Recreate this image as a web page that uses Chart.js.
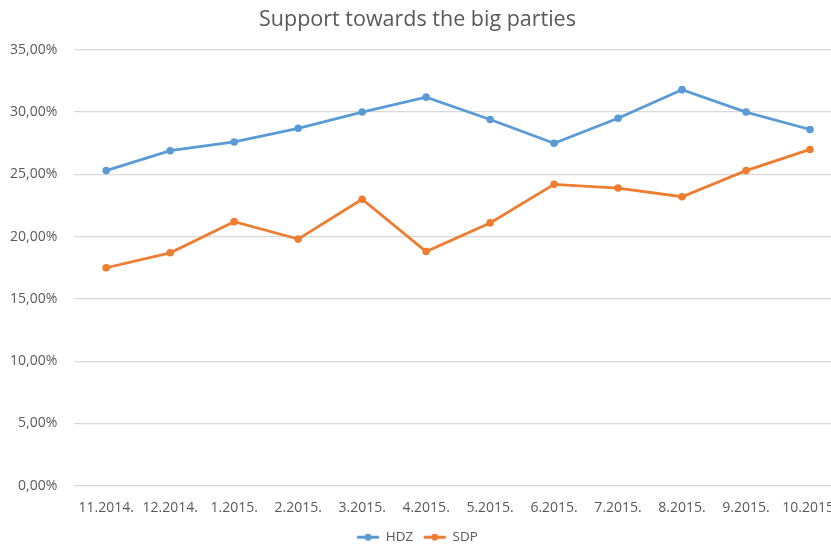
<!DOCTYPE html>
<html>
<head>
<meta charset="utf-8">
<script src="https://cdn.jsdelivr.net/npm/chart.js@4/dist/chart.umd.min.js"></script>
<style>
html,body{margin:0;padding:0;background:#fff;overflow:hidden;width:831px;height:546px;position:relative;}
#wrap{position:absolute;left:-15px;top:0;width:885px;height:546px;}
</style>
</head>
<body>
<div id="wrap"><canvas id="c" width="885" height="546" style="width:885px;height:546px"></canvas></div>
<script>
const categories = ["11.2014.","12.2014.","1.2015.","2.2015.","3.2015.","4.2015.","5.2015.","6.2015.","7.2015.","8.2015.","9.2015.","10.2015."];
const hdzValues = [25.3,26.9,27.6,28.7,30.0,31.2,29.4,27.5,29.5,31.8,30.0,28.6];
const sdpValues = [17.5,18.7,21.2,19.8,23.0,18.8,21.1,24.2,23.9,23.2,25.3,27.0];
const yTicks = [0,5,10,15,20,25,30,35];
const titleText = "Support towards the big parties";

const FONT = "'Open Sans', 'Noto Sans', sans-serif";
const GREY = "#595959";

const legendDots = {
  id: 'legendDots',
  afterDraw(chart) {
    const lg = chart.legend;
    if (!lg || !lg.legendHitBoxes) return;
    const ctx = chart.ctx;
    lg.legendHitBoxes.forEach((box, i) => {
      const ds = chart.data.datasets[i];
      const bw = lg.options.labels.boxWidth;
      const cx = box.left + bw / 2;
      const cy = box.top + box.height / 2;
      ctx.save();
      ctx.fillStyle = ds.borderColor;
      ctx.beginPath();
      ctx.arc(cx, cy, 3.4, 0, Math.PI * 2);
      ctx.fill();
      ctx.restore();
    });
  }
};

new Chart(document.getElementById('c'), {
  type: 'line',
  data: {
    labels: categories,
    datasets: [
      {label: 'HDZ', data: hdzValues, borderColor: '#5B9BD5', backgroundColor: '#5B9BD5',
       borderWidth: 2.8, pointRadius: 3.8, pointBackgroundColor: '#5B9BD5', pointBorderWidth: 0, tension: 0},
      {label: 'SDP', data: sdpValues, borderColor: '#ED7D31', backgroundColor: '#ED7D31',
       borderWidth: 2.8, pointRadius: 3.8, pointBackgroundColor: '#ED7D31', pointBorderWidth: 0, tension: 0}
    ]
  },
  options: {
    responsive: false,
    animation: false,
    layout: {padding: {left: 8, right: 28, top: 2, bottom: -8}},
    plugins: {
      title: {display: true, text: titleText, color: GREY,
              font: {family: FONT, size: 21.5, weight: 'normal'}, padding: {top: 5, bottom: 17}},
      legend: {position: 'bottom',
               labels: {color: GREY, boxWidth: 22, boxHeight: 2.8, padding: 0,
                        font: {family: FONT, size: 13.5},
                        generateLabels(chart) {
                          const items = Chart.defaults.plugins.legend.labels.generateLabels(chart);
                          items.forEach((it, i) => {
                            it.lineWidth = 0;
                            if (i < items.length - 1) it.text = it.text + '   ';
                          });
                          return items;
                        }}},
      tooltip: {enabled: false}
    },
    scales: {
      x: {
        offset: true,
        grid: {display: false, drawTicks: false},
        border: {display: false},
        ticks: {color: GREY, font: {family: FONT, size: 14}, padding: 14, maxRotation: 0, autoSkip: false}
      },
      y: {
        min: 0, max: 35,
        afterBuildTicks(axis) { axis.ticks = yTicks.map(v => ({value: v})); },
        grid: {color: '#D9D9D9', lineWidth: 1.3, drawTicks: false},
        border: {display: false},
        ticks: {color: GREY, font: {family: FONT, size: 14}, padding: 17,
                callback: v => v.toFixed(2).replace('.', ',') + '%'}
      }
    }
  },
  plugins: [legendDots]
});
</script>
</body>
</html>
